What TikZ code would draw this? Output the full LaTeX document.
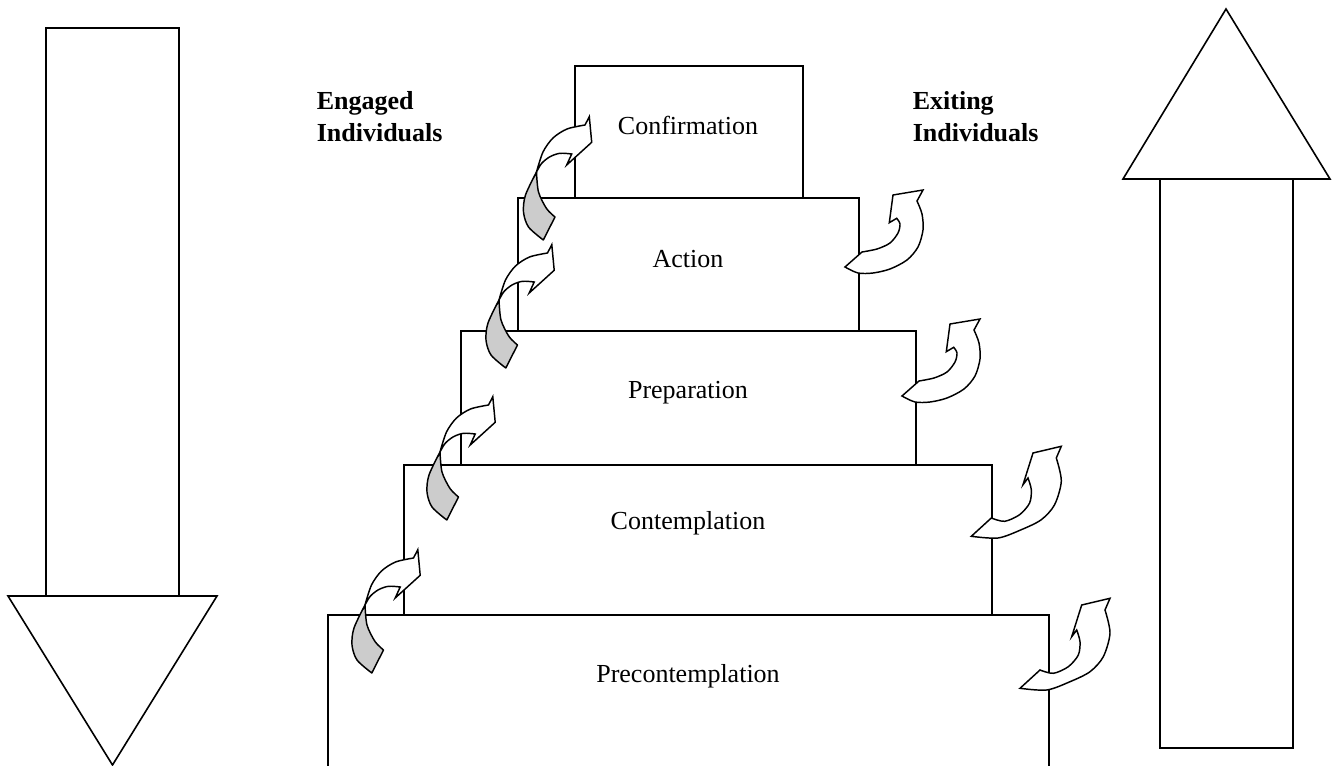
\documentclass[tikz,border=0pt]{standalone}
\usepackage{fontspec}
\setmainfont{Liberation Serif}
\begin{document}
\begin{tikzpicture}[x=0.75pt,y=-0.75pt,line width=1.2pt,line join=miter,
  outline/.style={draw=black,line width=1.2pt},
  backface/.style={draw=black,fill=black!20,line width=1.1pt,line join=round},
  frontface/.style={draw=black,fill=white,line width=1.1pt,line join=miter},
  steplabel/.style={anchor=base,inner sep=0pt,font=\fontsize{19.5pt}{23.75pt}\selectfont},
  grouplabel/.style={anchor=base west,inner sep=0pt,align=left,
    font=\fontsize{19.5pt}{23.75pt}\selectfont\bfseries}]
\useasboundingbox (0,0) rectangle (1332,766);

% curved arrow entering a higher stage (shaded back, white front)
\newcommand\engagecurl[1]{%
  \begin{scope}[shift={#1}]
    \filldraw[backface] plot[smooth] coordinates {(0,0) (-11,23) (-13,40) (-8,55) (6.8,68)}
      -- (18.5,45)
      -- plot[smooth] coordinates {(18.5,45) (10,36.5) (2,20) (0,0)} -- cycle;
    \filldraw[frontface] plot[smooth] coordinates {(0,0) (6.5,-20) (16.5,-34) (30.5,-43) (48.5,-47)}
      -- (52.8,-55.3) -- (55.2,-29.7) -- (30.2,-7) -- (35.2,-18)
      -- plot[smooth] coordinates {(35.2,-18) (23.5,-18.7) (13.5,-15.3) (5.2,-8.7) (0,0)} -- cycle;
  \end{scope}}

% curved arrow leaving a stage, small form (origin at the head tip)
\newcommand\exitcurlsmall[1]{%
  \begin{scope}[shift={#1}]
    \filldraw[frontface] (0,0) -- (30,-5) -- (24,6)
      -- plot[smooth] coordinates {(24,6) (29,19) (30,35) (25,52) (14,65) (-3,74) (-20,78) (-35,78) (-48,72)}
      -- (-31,57)
      -- plot[smooth] coordinates {(-31,57) (-16,54) (-3,48) (5,38) (7,29) (3.7,23.3)}
      -- (-3.7,27.7) -- cycle;
  \end{scope}}

% curved arrow leaving a stage, long-tailed form (origin at the head tip)
\newcommand\exitcurllarge[1]{%
  \begin{scope}[shift={#1}]
    \filldraw[frontface] (0,0) -- (28.3,-6.7) -- (23.3,5)
      -- plot[smooth] coordinates {(23.3,5) (28.3,28) (21.6,51.7) (8.3,66.7) (-11.7,76.7) (-35,85) (-61.7,83.3)}
      -- (-41.7,65)
      -- plot[smooth] coordinates {(-41.7,65) (-28.4,68.3) (-13.4,61.7) (-3.4,50) (-1.7,36.7) (-5,25)}
      -- (-10,31.7) -- cycle;
  \end{scope}}

% large downward arrow
\draw[outline] (46,596) -- (46,28) -- (179,28) -- (179,596);
\draw[outline] (8,596) -- (217,596) -- (112.5,765) -- cycle;

% large upward arrow
\draw[outline] (1160,179) -- (1160,748) -- (1293,748) -- (1293,179);
\draw[outline] (1123,179) -- (1330,179) -- (1226,9) -- cycle;

% stages
\draw[outline] (575,66) rectangle (803,198);
\draw[outline] (518,198) rectangle (859,331);
\draw[outline] (461,331) rectangle (916,465);
\draw[outline] (404,465) rectangle (992,615);
\draw[outline] (328,770) -- (328,615) -- (1049,615) -- (1049,770);

\node[steplabel] (confirmation) at (688,135) {Confirmation};
\node[steplabel] (action) at (688,268) {Action};
\node[steplabel] (preparation) at (688,399) {Preparation};
\node[steplabel] (contemplation) at (688,529) {Contemplation};
\node[steplabel] (precontemplation) at (688,682) {Precontemplation};

\node[grouplabel] (engaged) at (316,141.5) {Engaged\\Individuals};
\node[grouplabel] (exiting) at (912,141.5) {Exiting\\Individuals};

% movement between stages
\engagecurl{(536.5,172)}
\engagecurl{(499,300)}
\engagecurl{(440,452)}
\engagecurl{(365,605)}

\exitcurlsmall{(893,195)}
\exitcurlsmall{(950,324)}
\exitcurllarge{(1033,453)}
\exitcurllarge{(1081.7,605)}
\end{tikzpicture}
\end{document}
